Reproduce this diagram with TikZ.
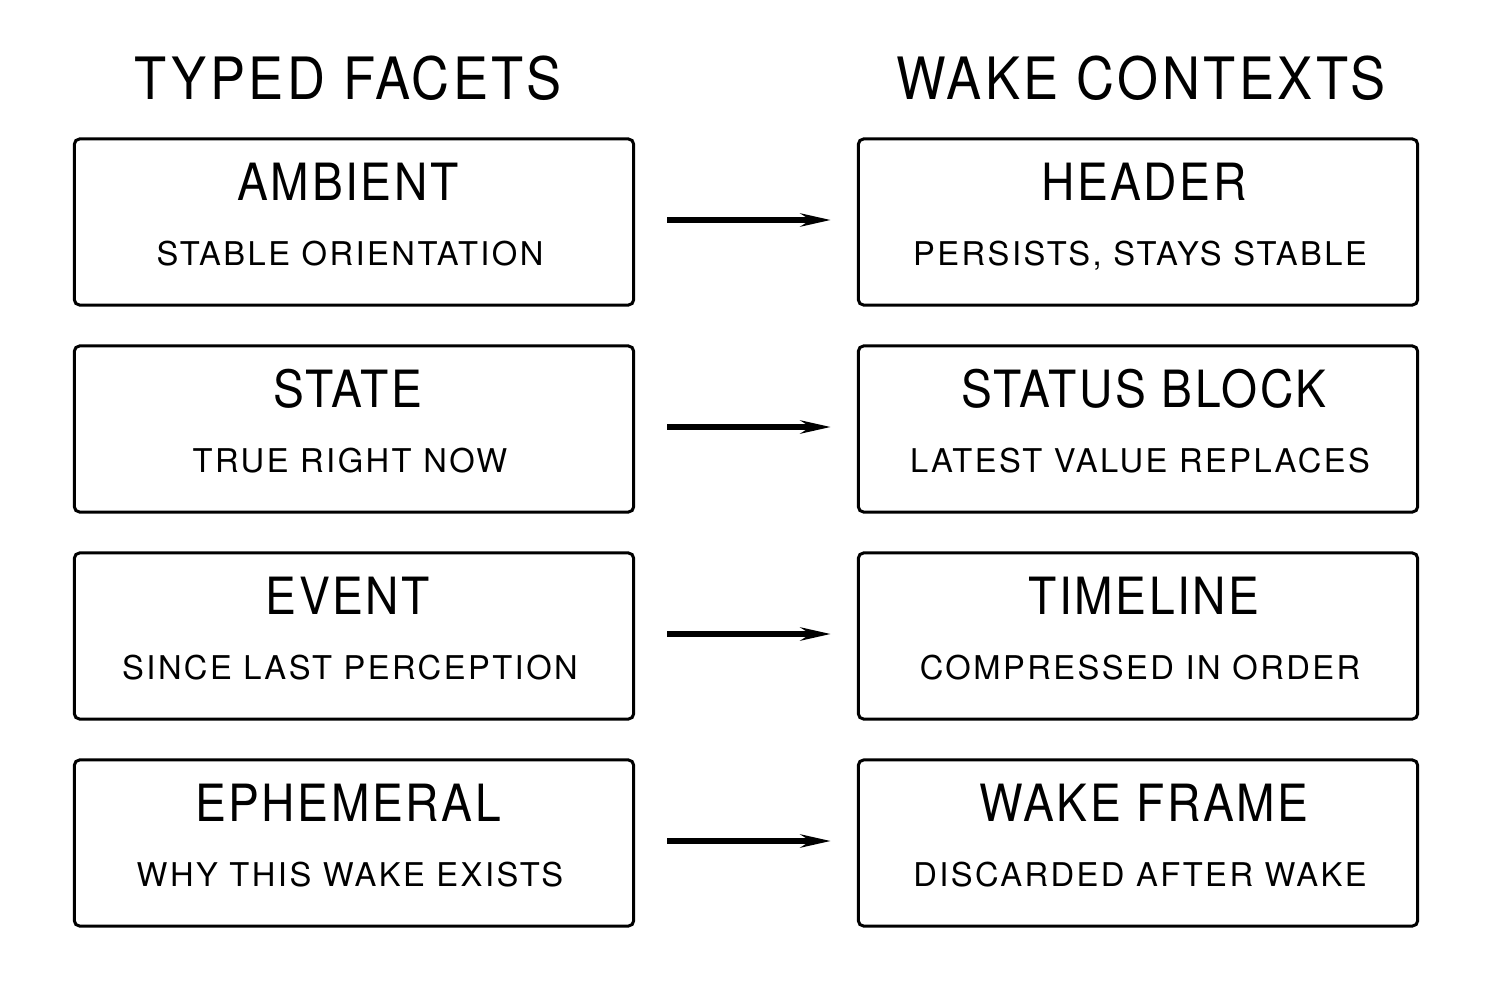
\documentclass[tikz,border=0pt]{standalone}
\usepackage{fontspec}
\setmainfont{TeX Gyre Heros}[FakeStretch=0.9]
\newfontfamily\subfont{TeX Gyre Heros}[LetterSpace=7.5]
\usetikzlibrary{arrows.meta}
\tikzset{
	facet/.style={draw, line width=0.85pt, rounded corners=1.5pt, minimum width=5.59cm, minimum height=1.66cm, inner sep=0pt},
	coltitle/.style={anchor=base, font=\fontsize{16.6}{18}\selectfont\addfontfeature{LetterSpace=6}},
	headtext/.style={anchor=base, font=\fontsize{14.6}{16}\selectfont\addfontfeature{LetterSpace=5}},
	subtext/.style={anchor=base, font=\subfont\fontsize{9.3}{11}\selectfont},
	flow/.style={line width=1.5pt, -{Stealth[length=3mm,width=1.3mm]}, shorten <=3.2mm, shorten >=2.6mm}
}
\begin{document}
\begin{tikzpicture}[x=0.01cm,y=-0.01cm]
	\useasboundingbox (0,0) rectangle (1500,1000);
	% column titles
		\node[coltitle] (facettitle) at (348,100) {TYPED FACETS};
		\node[coltitle] (waketitle) at (1141,100) {WAKE CONTEXTS};
	% boxes, left and right
		\foreach \i/\fa/\fb/\wa/\wb in {1/AMBIENT/STABLE ORIENTATION/HEADER/{PERSISTS, STAYS STABLE},
				2/STATE/TRUE RIGHT NOW/STATUS BLOCK/LATEST VALUE REPLACES,
				3/EVENT/SINCE LAST PERCEPTION/TIMELINE/COMPRESSED IN ORDER,
				4/EPHEMERAL/WHY THIS WAKE EXISTS/WAKE FRAME/DISCARDED AFTER WAKE}{
			\node[facet] (facet\i) at (354,15+207*\i) {};
			\node[facet] (wake\i)  at (1138,15+207*\i) {};
			\node[headtext] (facethead\i) at (348,-7+207*\i) {\fa};
			\node[subtext]  (facetsub\i)  at (350,58+207*\i) {\fb};
			\node[headtext] (wakehead\i)  at (1144,-7+207*\i) {\wa};
			\node[subtext]  (wakesub\i)   at (1140,58+207*\i) {\wb};
		% mapping
			\draw[flow] ([yshift=0.2mm]facet\i.east) -- ([yshift=0.2mm]wake\i.west);
			}
\end{tikzpicture}
\end{document}
